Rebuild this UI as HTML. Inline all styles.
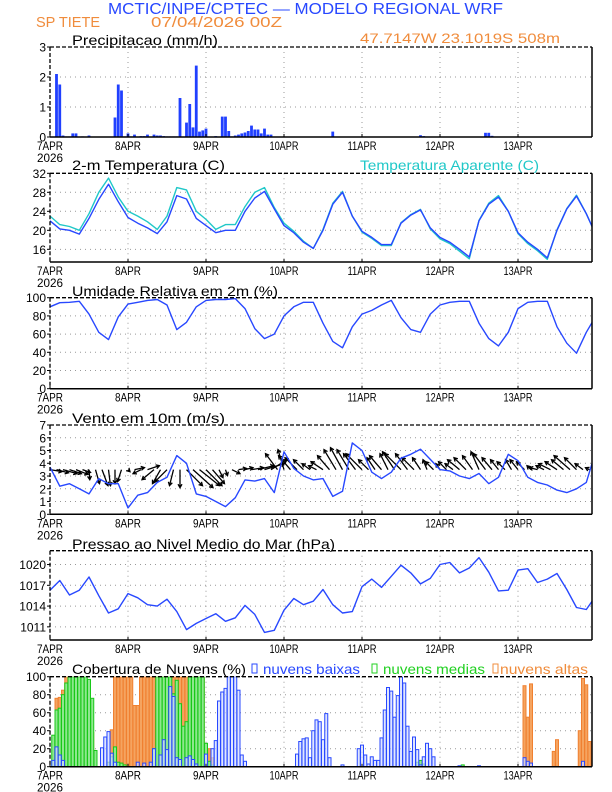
<!DOCTYPE html>
<html><head><meta charset="utf-8"><title>Meteograma WRF SP Tiete</title>
<style>
html,body{margin:0;padding:0;background:#fff;}
svg{display:block;font-family:"Liberation Sans",sans-serif;}
</style></head>
<body>
<svg id="chart" width="612" height="792" viewBox="0 0 612 792" xmlns="http://www.w3.org/2000/svg">
<rect x="0" y="0" width="612" height="792" fill="#fff"/>
<text x="108" y="14" font-size="16" fill="#2848ff" textLength="395" lengthAdjust="spacingAndGlyphs">MCTIC/INPE/CPTEC — MODELO REGIONAL WRF</text>
<text x="36" y="27" font-size="15" fill="#f08c3c" textLength="64" lengthAdjust="spacingAndGlyphs">SP TIETE</text>
<text x="151" y="27" font-size="15" fill="#f08c3c" textLength="131" lengthAdjust="spacingAndGlyphs">07/04/2026 00Z</text>
<text x="360" y="43" font-size="14" fill="#f08c3c" textLength="200" lengthAdjust="spacingAndGlyphs">47.7147W 23.1019S 508m</text>
<text x="72" y="45" font-size="14" fill="#000" textLength="146" lengthAdjust="spacingAndGlyphs">Precipitacao (mm/h)</text>
<text x="72" y="170" font-size="14" fill="#000" textLength="153" lengthAdjust="spacingAndGlyphs">2-m Temperatura (C)</text>
<text x="360" y="170" font-size="14" fill="#20c8c8" textLength="179" lengthAdjust="spacingAndGlyphs">Temperatura Aparente (C)</text>
<text x="72" y="296" font-size="14" fill="#000" textLength="206" lengthAdjust="spacingAndGlyphs">Umidade Relativa em 2m (%)</text>
<text x="72" y="423" font-size="14" fill="#000" textLength="153" lengthAdjust="spacingAndGlyphs">Vento em 10m (m/s)</text>
<text x="72" y="549" font-size="14" fill="#000" textLength="263" lengthAdjust="spacingAndGlyphs">Pressao ao Nivel Medio do Mar (hPa)</text>
<text x="72" y="674" font-size="14" fill="#000" textLength="174" lengthAdjust="spacingAndGlyphs">Cobertura de Nuvens (%)</text>
<rect x="252" y="664" width="5" height="9" fill="none" stroke="#2848ff" stroke-width="1"/>
<text x="263" y="674" font-size="14" fill="#2848ff" textLength="97" lengthAdjust="spacingAndGlyphs">nuvens baixas</text>
<rect x="372" y="664" width="5" height="9" fill="none" stroke="#20d020" stroke-width="1"/>
<text x="383" y="674" font-size="14" fill="#20d020" textLength="102" lengthAdjust="spacingAndGlyphs">nuvens medias</text>
<rect x="493" y="664" width="5" height="9" fill="none" stroke="#f08c3c" stroke-width="1"/>
<text x="500" y="674" font-size="14" fill="#f08c3c" textLength="88" lengthAdjust="spacingAndGlyphs">nuvens altas</text>
<g id="layer"></g>
</svg>
<script>
// ---- data (hourly / 3-hourly / 2-hourly series starting 07APR 00Z) ----
const dayLabels = ["7APR","8APR","9APR","10APR","11APR","12APR","13APR"];
const precip = [
0,0,2.1,1.75,0.05,0.02,0.02,0.12,0.12,0,0.02,0,0.05,0,0,0,0,0,0,0,0.65,1.75,1.55,0.02,
0.12,0.02,0.08,0,0.03,0.03,0.08,0,0.08,0.05,0.05,0.03,0.02,0.02,0.02,0.02,1.3,0,0.48,1.1,0.32,2.38,0.18,0.22,
0.28,0,0,0.03,0,0.68,0.68,0.2,0.02,0.05,0.08,0.12,0.15,0.2,0.38,0.25,0.25,0.12,0.28,0.08,0.08,0,0,0,
0,0,0,0,0,0,0,0,0,0,0,0,0,0,0,0.18,0,0,0,0,0,0.01,0,0.01,
0,0,0,0,0.01,0,0,0,0,0,0,0,0,0,0,0,0,0,0.06,0.03,0,0,0,0,
0,0,0,0,0,0,0,0,0,0,0,0,0,0,0.14,0.14,0.04,0,0,0,0,0,0,0,
0,0,0,0,0,0,0,0,0,0,0,0,0,0,0,0,0,0,0,0,0,0,0];
const precipTicks = [0,1,2,3];

const temp2m = [22,20.3,20,19.2,22.5,26.5,29.7,26,22.7,21.5,20.5,19.3,21.8,27.3,26.6,22.5,21,19.5,20,20,24,26.8,28.2,24.5,21,19.5,17.5,16.2,20,25.5,28,23,19.8,18.5,17,17,21.5,23.2,24.3,20.5,18.5,17.5,16,14.4,22,25.5,27,24,19.5,17.5,16,14.2,20,24.5,27.2,23.5,19];
const tempApp = [23,21.2,20.8,20,23.5,28,31,27,24,23,21.8,20.2,23,29,28.5,24,22.3,20.2,21.2,21.2,25,28,29,24.8,21.5,19.8,17.7,16.2,20.2,25.7,28.2,23,19.6,18.3,16.8,16.8,21.6,23.3,24.4,20.3,18.2,17.2,15.6,14,22.1,25.7,27.3,24,19.3,17.2,15.7,13.9,20.1,24.6,27.4,23.5,19];
const tempTicks = [16,20,24,28,32];

const humidity = [90,94.5,95,96,82,62,54,79,93,95,97,98,92,65,73,90,97,98,98,99,88,66,55,60,80,90,95,95,72,52,45,68,82,86,92,97,78,65,62,82,92,95,96,96,72,55,47,62,88,95,96,96,68,50,39,62,80];
const humidityTicks = [0,20,40,60,80,100];

const windSpeed = [3.7,2.2,2.4,2.0,1.6,2.8,2.4,2.4,0.5,1.5,1.7,2.5,2.9,4.6,4.0,1.6,1.4,1.0,0.6,1.3,2.7,2.6,2.8,1.7,4.9,3.6,3.0,2.7,2.8,1.4,1.8,5.6,5.0,3.3,2.8,3.3,4.4,4.7,5.1,4.3,3.5,3.4,3.0,2.8,3.2,2.4,2.9,4.7,4.2,2.9,2.5,2.3,1.9,1.7,2.0,2.5,5.0];
const windU = [3,3,3.5,3,3,2, 0.2,1,1.5,0.5,0,-1, 0.5,2.5,-2,3,-3,-2, -3,-1,0,4,5,5, 4,3,1,0.5,2,2, 2,3,4,5,4,-3, -1.5,-3,-3,-2.5,-2,-2, -3,-3,-3,-3,-3,-3, -4,-2.5,-2,-3,-2,-3, -4,-3,-3,-2,-1,-2, -1,-2,-2,-3,-3,-2.5, -2,-3,-2.5,-2,-2,-1.5, -2,-2,-1,-2,-2,-3, -3,-3,-4,-3,-2,-1];
const windV = [-0.5,-0.8,-1,-1,-1.2,-0.7, -2.5,-3.5,-4,-4,-3.5,-3, -0.5,0.5,-1,1,-2.5,-3.5, -3,-4,-4.5,-4,-4.5,-4, -4,-3.5,-2,-1.5,-1,0.3, 0.5,0.5,1,1.5,2.5,4, 5,3.5,3,2.5,1.5,1, 2,3.5,5,5.5,5,4, 4,2.5,3,3.5,4,4.5, 4,4,3,3,2.5,2, 1.5,2,1.5,2.5,3,3.5, 4.5,4,3,2.5,2,2.5, 2.5,2,1,0.5,1,1.5, 2,2.5,3.5,3,1.5,0.5];
const windTicks = [0,1,2,3,4,5,6,7];

const pressure = [1016.3,1017.7,1015.6,1016.3,1018.2,1015.5,1013,1013.6,1015.8,1015.2,1014.2,1014,1015,1013.2,1010.6,1011.5,1012.2,1012.9,1011.8,1012.3,1014.1,1012.8,1010.2,1010.5,1013.4,1015.1,1014.2,1014.7,1016.4,1014.2,1013,1013.2,1016.8,1017.9,1016.7,1018.3,1019.9,1018.8,1017.2,1018,1020,1020.3,1018.8,1019.5,1021,1018.9,1016.2,1016.3,1019.2,1019.4,1017.4,1017.9,1018.7,1016.4,1013.8,1013.5,1015.5];
const pressureTicks = [1011,1014,1017,1020];

const cloudHigh = [
0,0,76,77,85,100,100,100,100,100,100,45,40,38,0,0,0,0,3,41,100,100,100,100,
100,100,68,68,100,100,100,100,100,100,100,100,100,100,100,100,100,100,100,100,100,100,100,100,
22,20,10,0,0,0,0,0,0,0,0,0,0,0,0,0,0,0,0,0,0,0,0,0,
0,0,0,0,0,0,0,0,0,0,0,0,0,0,0,0,0,0,0,0,0,0,0,0,
0,0,0,0,0,0,0,0,0,0,0,0,0,0,0,0,0,0,0,0,0,0,0,0,
0,0,0,0,0,0,0,0,0,0,0,0,0,0,0,0,0,0,0,0,0,0,0,0,
0,0,90,55,92,0,0,0,0,0,0,17,30,0,0,0,0,0,0,40,98,91,28];
const cloudMid = [
0,35,63,65,80,93,100,100,100,100,100,100,97,76,18,0,0,0,5,11,22,5,4,2,
0,0,0,0,0,0,0,0,20,100,100,100,100,100,81,96,70,45,50,100,100,100,100,100,
26,6,2,0,0,0,0,0,0,0,0,0,0,0,0,0,0,0,0,0,0,0,0,0,
0,0,0,0,0,0,0,0,0,0,0,0,0,0,0,0,0,0,0,0,0,0,0,0,
0,0,0,0,0,0,0,0,0,0,0,0,0,0,0,0,0,5,7,3,0,0,0,0,
0,0,0,0,0,0,0,2,0,0,0,0,0,0,0,0,0,0,0,0,0,0,0,0,
0,0,0,0,0,0,0,0,0,0,0,0,0,0,0,0,0,0,0,0,0,0,0];
const cloudLow = [
0,7,22,13,7,0,0,0,0,0,0,0,0,0,0,0,21,33,39,15,5,0,0,0,
0,0,0,5,0,4,0,5,20,0,13,30,19,89,78,10,8,0,10,12,8,3,0,0,
14,0,20,29,73,83,87,100,100,100,85,13,6,0,0,0,0,0,0,0,0,0,0,0,
0,0,0,0,14,28,31,32,10,40,52,50,30,59,10,0,0,0,2,0,0,0,0,20,
24,13,3,11,7,7,32,63,88,84,55,79,100,93,45,17,33,19,2,11,26,20,11,0,
0,0,0,0,0,0,1,0,0,0,0,0,1,0,0,0,0,0,0,0,0,0,0,0,
0,0,10,6,4,0,0,0,0,0,0,0,0,0,0,0,0,0,0,0,6,0,0];
const cloudTicks = [0,20,40,60,80,100];

// ---- layout ----
const NS = "http://www.w3.org/2000/svg";
const layer = document.getElementById("layer");
const L = 50, R = 592, PXH = 3.25; // px per hour
const X = t => L + t * PXH;
function mk(tag, attrs, parent) {
  const el = document.createElementNS(NS, tag);
  for (const k in attrs) el.setAttribute(k, attrs[k]);
  (parent || layer).appendChild(el);
  return el;
}
function panel(name, top, bottom, ymin, ymax, ticks, gridTicks) {
  const Y = v => bottom - (v - ymin) / (ymax - ymin) * (bottom - top);
  const g = mk("g", {});
  
  
  const clipId = name + "-clip";
  const cp = mk("clipPath", {id: clipId}, g);
  mk("rect", {x: L, y: top, width: R - L, height: bottom - top}, cp);
  for (let d = 1; d < 7; d++) {
    const gl = mk("line", {x1: X(24*d), x2: X(24*d), y1: top, y2: bottom, stroke: "#999", "stroke-width": 1, "stroke-dasharray": "1,4"}, g);
    
    
  }
  ticks.forEach(v => {
    const y = Y(v);
    if (gridTicks && y > top + 1 && y < bottom - 1) {
      const gl = mk("line", {x1: L, x2: R, y1: y, y2: y, stroke: "#999", "stroke-width": 1, "stroke-dasharray": "1,4"}, g);
      
      
    }
    const tk = mk("line", {x1: L - 3, x2: L, y1: y, y2: y, stroke: "#000", "stroke-width": 1}, g);
    
    
    const tl = mk("text", {x: L - 4, y: y + 4.5, "font-size": 12, "text-anchor": "end", fill: "#000"}, g);
    tl.textContent = String(v);
    
    
  });
  const plot = mk("g", {"clip-path": "url(#" + clipId + ")"}, g);
  
  
  const frameG = mk("g", {}, g);
  
  
  dayLabels.forEach((lab, d) => {
    const tx = mk("text", {x: X(24*d), y: bottom + 13, "font-size": 12, "text-anchor": "middle", fill: "#000", textLength: lab.length > 4 ? 29 : 26, lengthAdjust: "spacingAndGlyphs"}, g);
    tx.textContent = lab;
    
    
    const tk = mk("line", {x1: X(24*d), x2: X(24*d), y1: bottom - 3, y2: bottom, stroke: "#000", "stroke-width": 1}, g);
    
    
  });
  const yr = mk("text", {x: L, y: bottom + 25, "font-size": 12, "text-anchor": "middle", fill: "#000", textLength: 26, lengthAdjust: "spacingAndGlyphs"}, g);
  yr.textContent = "2026";
  
  
  return {Y, plot, frameG, top, bottom};
}
function frame(p) {
  const a = mk("line", {x1: L, x2: R, y1: p.top, y2: p.top, stroke: "#000", "stroke-width": 1.3, "stroke-dasharray": "4,2"}, p.frameG);
  
  
  const b = mk("line", {x1: L, x2: L, y1: p.top, y2: p.bottom, stroke: "#000", "stroke-width": 1.3, "stroke-dasharray": "4,2"}, p.frameG);
  
  
  const c = mk("line", {x1: L, x2: R, y1: p.bottom, y2: p.bottom, stroke: "#000", "stroke-width": 1.5}, p.frameG);
  
  
  const d = mk("line", {x1: R, x2: R, y1: p.top, y2: p.bottom, stroke: "#000", "stroke-width": 1.5}, p.frameG);
  
  
}
function line(p, vals, step, color, name) {
  const pts = vals.map((v, i) => X(i * step).toFixed(1) + "," + p.Y(v).toFixed(1)).join(" ");
  const pl = mk("polyline", {points: pts, fill: "none", stroke: color, "stroke-width": 1.4, "stroke-linejoin": "round"}, p.plot);
  
  
}

const pP = panel("precip", 47, 137, 0, 3, precipTicks, true);
precip.forEach((v, t) => {
  if (v <= 0) return;
  const r = mk("rect", {x: X(t) - 1.4, y: pP.Y(v), width: 2.8, height: pP.bottom - pP.Y(v), fill: "#2040ff"}, pP.plot);
  
  
});
frame(pP);

const pT = panel("temp", 173.3, 262, 13.33, 32, tempTicks, true);
line(pT, tempApp, 3, "#20c8c8", "apparent-temp-line");
line(pT, temp2m, 3, "#2848ff", "temp-2m-line");
frame(pT);

const pH = panel("humidity", 297.7, 388.7, 0, 100, humidityTicks, true);
line(pH, humidity, 3, "#2848ff", "humidity-line");
frame(pH);

const pW = panel("wind", 425, 514.3, 0, 7, windTicks, true);
const baseY = pW.Y(3.5);
const S = 4;
windU.forEach((u, i) => {
  const v = windV[i];
  const x0 = X(i * 2), x1 = x0 + u * S, y1 = baseY - v * S;
  const len = Math.hypot(x1 - x0, y1 - baseY) || 1;
  const ux = (x1 - x0) / len, uy = (y1 - baseY) / len;
  const h = 4;
  const hx1 = x1 - h * (ux * 0.87 - uy * 0.5), hy1 = y1 - h * (uy * 0.87 + ux * 0.5);
  const hx2 = x1 - h * (ux * 0.87 + uy * 0.5), hy2 = y1 - h * (uy * 0.87 - ux * 0.5);
  const ar = mk("path", {d: `M${x0},${baseY}L${x1},${y1}M${hx1},${hy1}L${x1},${y1}L${hx2},${hy2}`, stroke: "#000", "stroke-width": 1.3, fill: "none"}, pW.plot);
  
  
});
line(pW, windSpeed, 3, "#2848ff", "wind-speed-line");
frame(pW);

const pPr = panel("pressure", 550.7, 640, 1009.1, 1022, pressureTicks, true);
line(pPr, pressure, 3, "#2848ff", "pressure-line");
frame(pPr);

const pC = panel("cloud", 676.7, 766.7, 0, 100, cloudTicks, true);
function cloudBars(vals, fill, stroke, name, drawZero) {
  vals.forEach((v, t) => {
    if (v <= 0 && !drawZero) return;
    const r = mk("rect", {x: X(t) - 1.5, y: pC.Y(v), width: 3, height: pC.bottom - pC.Y(v), fill: fill, stroke: stroke, "stroke-width": 1}, pC.plot);
    
    
  });
}
cloudBars(cloudHigh, "#f5a460", "#f08030", "cloud-high-bar", false);
cloudBars(cloudMid, "#8fe88f", "#18c818", "cloud-mid-bar", false);
cloudBars(cloudLow, "rgba(210,220,255,0.7)", "#2848ff", "cloud-low-bar", true);
frame(pC);
</script>
</body></html>
